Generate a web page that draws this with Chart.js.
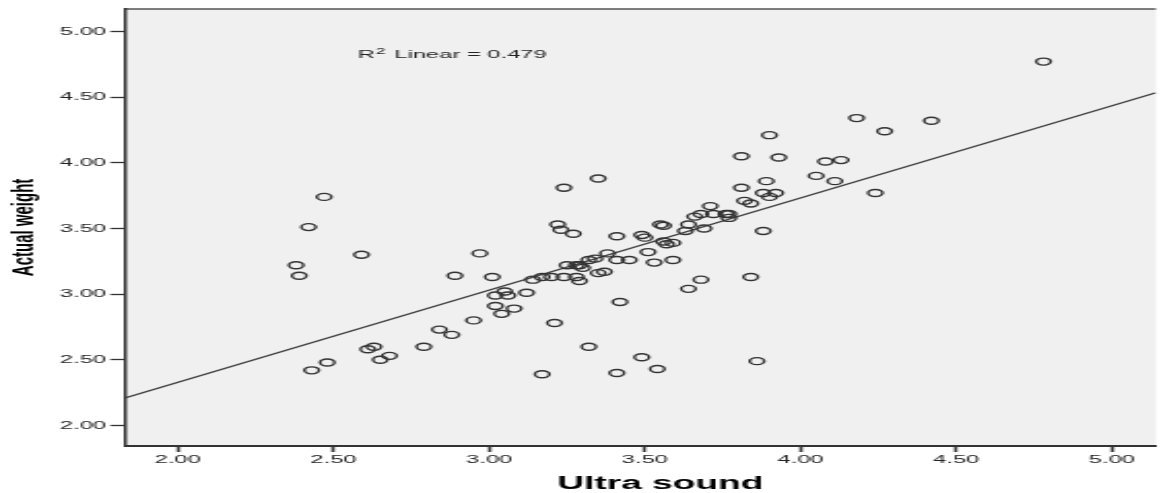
<!DOCTYPE html>
<html>
<head>
<meta charset="utf-8">
<title>Ultra sound vs Actual weight</title>
<script src="https://cdn.jsdelivr.net/npm/chart.js@4.4.1/dist/chart.umd.min.js"></script>
<style>
  html, body { margin: 0; padding: 0; background: #fff; }
  #chart { display: block; }
</style>
</head>
<body>
<!-- drawn narrow and stretched sideways, like the SPSS export it copies -->
<canvas id="chart" width="566" height="493" style="width:1167px;height:493px"></canvas>
<script>
// Ultra sound estimate (x) and actual weight (y)
const ultraSound = [
  2.38, 2.39, 2.42, 2.47, 2.59, 2.43, 2.48, 2.61, 2.63, 2.65,
  2.68, 2.79, 2.84, 2.88, 2.89, 2.95, 2.97, 3.01, 3.02, 3.02,
  3.04, 3.05, 3.06, 3.08, 3.12, 3.14, 3.17, 3.20, 3.24, 3.28,
  3.29, 3.17, 3.21, 3.22, 3.23, 3.27, 3.24, 3.35, 3.25, 3.28,
  3.29, 3.30, 3.32, 3.34, 3.35, 3.37, 3.38, 3.32, 3.41, 3.42,
  3.41, 3.45, 3.41, 3.49, 3.50, 3.51, 3.53, 3.59, 3.56, 3.57,
  3.59, 3.55, 3.56, 3.49, 3.54, 3.64, 3.63, 3.69, 3.66, 3.68,
  3.72, 3.71, 3.76, 3.77, 3.77, 3.68, 3.64, 3.84, 3.86, 3.88,
  3.82, 3.84, 3.81, 3.88, 3.92, 3.90, 3.89, 3.81, 3.93, 3.90,
  4.05, 4.08, 4.13, 4.11, 4.24, 4.18, 4.27, 4.42, 4.78
];
const actualWeight = [
  3.22, 3.14, 3.51, 3.74, 3.30, 2.42, 2.48, 2.58, 2.60, 2.50,
  2.53, 2.60, 2.73, 2.69, 3.14, 2.80, 3.31, 3.13, 2.99, 2.91,
  2.85, 3.02, 2.99, 2.89, 3.01, 3.11, 3.13, 3.13, 3.13, 3.13,
  3.10, 2.39, 2.78, 3.53, 3.49, 3.46, 3.81, 3.88, 3.22, 3.22,
  3.22, 3.20, 3.26, 3.27, 3.16, 3.17, 3.31, 2.60, 2.40, 2.94,
  3.26, 3.26, 3.44, 3.45, 3.43, 3.32, 3.24, 3.26, 3.40, 3.38,
  3.39, 3.53, 3.52, 2.52, 2.43, 3.53, 3.48, 3.50, 3.59, 3.61,
  3.61, 3.67, 3.61, 3.61, 3.58, 3.11, 3.04, 3.13, 2.49, 3.48,
  3.71, 3.69, 3.81, 3.77, 3.77, 3.74, 3.86, 4.05, 4.04, 4.21,
  3.90, 4.01, 4.02, 3.86, 3.77, 4.34, 4.24, 4.32, 4.77
];

// fitted line, read where it meets the plot edges
const fitX = [1.833, 5.141];
const fitY = [2.211, 4.533];

const xTickLabels = ['2.00', '2.50', '3.00', '3.50', '4.00', '4.50', '5.00'];
const yTickLabels = ['2.00', '2.50', '3.00', '3.50', '4.00', '4.50', '5.00'];

const xTitle = 'Ultra sound';
const yTitle = 'Actual weight';
const r2Label = 'Linear = 0.479';

const FONT = "'Liberation Sans', Arial, sans-serif";

// grey plot background and the top frame line
const plotFrame = {
  id: 'plotFrame',
  beforeDraw(chart) {
    const {ctx, chartArea: a} = chart;
    ctx.save();
    ctx.fillStyle = '#f0f0f0';
    ctx.fillRect(a.left, a.top, a.right - a.left, a.bottom - a.top);
    ctx.strokeStyle = '#555';
    ctx.lineWidth = 1.5;
    ctx.beginPath();
    ctx.moveTo(a.left, a.top);
    ctx.lineTo(a.right, a.top);
    ctx.stroke();
    ctx.restore();
  }
};

// x axis title sits a little right of the plot centre in the original
const xTitleDraw = {
  id: 'xTitleDraw',
  afterDraw(chart) {
    const {ctx, chartArea: a} = chart;
    ctx.save();
    ctx.font = 'bold 18px ' + FONT;
    ctx.fillStyle = '#000';
    ctx.textAlign = 'center';
    ctx.textBaseline = 'middle';
    ctx.fillText(xTitle, (a.left + a.right) / 2 + 9.5, 484);
    ctx.restore();
  }
};

// "R² Linear = 0.479" note
const r2Note = {
  id: 'r2Note',
  afterDatasetsDraw(chart) {
    const {ctx, scales} = chart;
    let px = scales.x.getPixelForValue(2.578);
    const py = scales.y.getPixelForValue(4.798);
    ctx.save();
    ctx.fillStyle = '#222';
    ctx.textBaseline = 'alphabetic';
    ctx.textAlign = 'left';
    ctx.font = '11.5px ' + FONT;
    ctx.fillText('R', px, py);
    px += ctx.measureText('R').width;
    ctx.font = '8.5px ' + FONT;
    ctx.fillText('2', px + 0.5, py - 4);
    px += ctx.measureText('2').width + 0.5;
    ctx.font = '11.5px ' + FONT;
    ctx.fillText(' ' + r2Label, px + 1, py);
    ctx.restore();
  }
};

const points = ultraSound.map((x, i) => ({x: x, y: actualWeight[i]}));
const fitLine = fitX.map((x, i) => ({x: x, y: fitY[i]}));

new Chart(document.getElementById('chart'), {
  type: 'scatter',
  data: {
    datasets: [{
      data: points,
      pointStyle: 'circle',
      pointRadius: 3.5,
      pointBorderWidth: 1.4,
      pointBorderColor: '#333',
      pointBackgroundColor: 'rgba(0,0,0,0)',
      order: 1
    }, {
      type: 'line',
      data: fitLine,
      borderColor: '#3a3a3a',
      borderWidth: 1.3,
      pointRadius: 0,
      fill: false,
      order: 2
    }]
  },
  options: {
    responsive: false,
    animation: false,
    devicePixelRatio: 1,
    layout: { padding: { top: 7.5, right: 0, bottom: 0, left: 0 } },
    plugins: {
      legend: { display: false },
      tooltip: { enabled: false }
    },
    scales: {
      x: {
        type: 'linear',
        position: 'bottom',
        min: 1.833,
        max: 5.141,
        afterFit: s => { s.height = 47; },
        afterBuildTicks: s => { s.ticks = xTickLabels.map(t => ({value: Number(t)})); },
        ticks: {
          callback: (v, i) => xTickLabels[i],
          font: { family: FONT, size: 11.5 },
          color: '#222',
          padding: 1,
          maxRotation: 0
        },
        grid: {
          drawOnChartArea: false,
          tickLength: 6,
          tickWidth: 1.6,
          tickColor: '#333'
        },
        border: { color: '#333', width: 2 },
        title: { display: false }
      },
      y: {
        type: 'linear',
        position: 'left',
        min: 1.844,
        max: 5.171,
        afterFit: s => { s.width = 61; },
        afterBuildTicks: s => { s.ticks = yTickLabels.map(t => ({value: Number(t)})); },
        ticks: {
          callback: (v, i) => yTickLabels[i],
          font: { family: FONT, size: 11.5 },
          color: '#222',
          padding: 2
        },
        grid: {
          drawOnChartArea: false,
          tickLength: 7.5,
          tickWidth: 1.3,
          tickColor: '#333'
        },
        border: { color: '#333', width: 1.5 },
        title: {
          display: true,
          text: yTitle,
          color: '#000',
          font: { family: FONT, size: 15, weight: 'bold' },
          padding: { top: 3, bottom: 0 }
        }
      }
    }
  },
  plugins: [plotFrame, xTitleDraw, r2Note]
});
</script>
</body>
</html>
